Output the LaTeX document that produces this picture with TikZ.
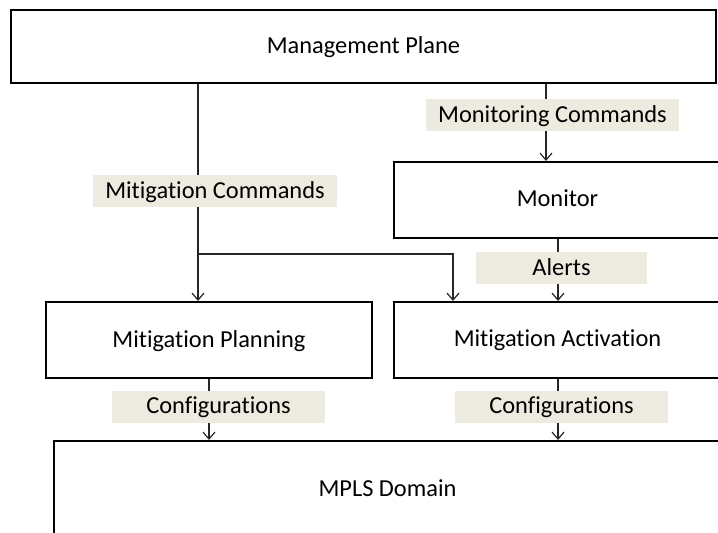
\documentclass[tikz,border=0pt]{standalone}
\usepackage{fontspec}
\setmainfont{Carlito}[Ligatures={NoCommon,NoRare}]
\usetikzlibrary{arrows.meta}
\definecolor{labelbg}{RGB}{237,234,224}
\tikzset{
  blk/.style={draw, line width=1pt, inner sep=0pt, text depth=0.25ex},
  lbl/.style={fill=labelbg, inner sep=0pt, minimum height=16pt, text depth=0.25ex},
  wire/.style={line width=0.6pt, draw=black!85}
}
\begin{document}
\begin{tikzpicture}[>={Straight Barb[length=3.5pt,width=6pt]}, x=0.5pt, y=-0.5pt]
  \fontsize{12.2}{14}\selectfont
  \clip (0,0) rectangle (718,533);
  \path
  (363.5,46.5) node[blk, minimum width=352.5pt, minimum height=36.5pt] (MP) {Management Plane}
  (557.5,200) node[blk, minimum width=163.5pt, minimum height=38pt] (MON) {Monitor}
  (209,340) node[blk, minimum width=163pt, minimum height=38pt] (PLAN) {Mitigation Planning}
  (557.5,340) node[blk, minimum width=163.5pt, minimum height=38pt] (ACT) {Mitigation Activation}
  (387.5,490) node[blk, minimum width=333.5pt, minimum height=49pt] (MPLS) {MPLS Domain};

  % taps on the boxes
  \coordinate (split) at (198,254);
  \coordinate (splitR) at (453,254);
  \coordinate (montap) at (546,0);
  \coordinate (acttap) at (558,0);

  \draw[wire,->] (MP.south -| split) -- (PLAN.north -| split);
  \draw[wire,->] (split) -- (splitR) -- (ACT.north -| splitR);
  \draw[wire,->] (MP.south -| montap) -- (MON.north -| montap);
  \draw[wire,->] (MON.south -| acttap) -- (ACT.north -| acttap);
  \draw[wire,->] (PLAN.south) -- (MPLS.north -| PLAN.south);
  \draw[wire,->] (ACT.south -| acttap) -- (MPLS.north -| acttap);

  \path
  (215,191) node[lbl, minimum width=122pt] (mcmd) {Mitigation Commands}
  (552.5,115.5) node[lbl, minimum width=126.5pt] (moncmd) {Monitoring Commands}
  (561.5,268) node[lbl, minimum width=85.5pt] (alerts) {Alerts}
  (218.5,407) node[lbl, minimum width=106.5pt] (cfgL) {Configurations}
  (561.5,407) node[lbl, minimum width=106.5pt] (cfgR) {Configurations};
\end{tikzpicture}
\end{document}
